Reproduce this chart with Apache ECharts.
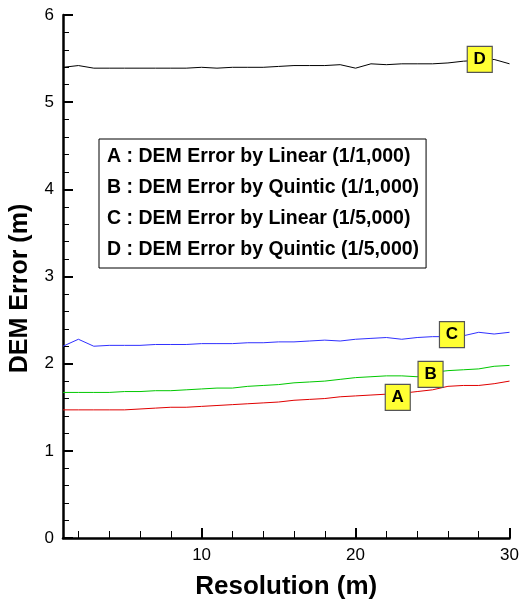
<!DOCTYPE html>
<html>
<head>
<meta charset="utf-8">
<script src="https://cdn.jsdelivr.net/npm/echarts@6/dist/echarts.min.js"></script>
<style>
  html, body { margin: 0; padding: 0; background: #fff; }
  #chart { width: 522px; height: 605px; }
</style>
</head>
<body>
<div id="chart"></div>
<script>
// resolution (m)
const resolution = [1, 2, 3, 4, 5, 6, 7, 8, 9, 10, 11, 12, 13, 14, 15,
  16, 17, 18, 19, 20, 21, 22, 23, 24, 25, 26, 27, 28, 29, 30]

// DEM error (m)
const linear1000 = [1.47, 1.47, 1.47, 1.47, 1.47, 1.48, 1.49, 1.50, 1.50, 1.51,
  1.52, 1.53, 1.54, 1.55, 1.56, 1.58, 1.59, 1.60, 1.62, 1.63,
  1.64, 1.65, 1.66, 1.68, 1.70, 1.74, 1.75, 1.75, 1.77, 1.80]
const quintic1000 = [1.67, 1.67, 1.67, 1.67, 1.68, 1.68, 1.69, 1.69, 1.70, 1.71,
  1.72, 1.72, 1.74, 1.75, 1.76, 1.78, 1.79, 1.80, 1.82, 1.84,
  1.85, 1.86, 1.86, 1.85, 1.90, 1.92, 1.93, 1.94, 1.97, 1.98]
const linear5000 = [2.20, 2.28, 2.20, 2.21, 2.21, 2.21, 2.22, 2.22, 2.22, 2.23,
  2.23, 2.23, 2.24, 2.24, 2.25, 2.25, 2.26, 2.27, 2.26, 2.28,
  2.29, 2.30, 2.28, 2.30, 2.31, 2.31, 2.32, 2.36, 2.34, 2.36]
const quintic5000 = [5.40, 5.42, 5.39, 5.39, 5.39, 5.39, 5.39, 5.39, 5.39, 5.40,
  5.39, 5.40, 5.40, 5.40, 5.41, 5.42, 5.42, 5.42, 5.43, 5.39,
  5.44, 5.43, 5.44, 5.44, 5.44, 5.45, 5.47, 5.48, 5.49, 5.44]

const seriesNames = [
  'A : DEM Error by Linear (1/1,000)',
  'B : DEM Error by Quintic (1/1,000)',
  'C : DEM Error by Linear (1/5,000)',
  'D : DEM Error by Quintic (1/5,000)'
]
const letters = ['A', 'B', 'C', 'D']
const seriesData = [linear1000, quintic1000, linear5000, quintic5000]
const colors = ['#e00000', '#00c800', '#3030ff', '#000000']
// index of the point where each letter box sits, and a small pixel nudge
const boxIndex = [22, 24, 25, 27]
const boxNudge = [[-4, 4], [-2, 2], [4, -2], [1, -1]]

const xMajor = [10, 20, 30]
const xMinor = [2, 4, 6, 8, 12, 14, 16, 18, 22, 24, 26, 28]

const font = 'Liberation Sans, Arial, sans-serif'

const chart = echarts.init(document.getElementById('chart'))

const series = seriesData.map((vals, i) => ({
  name: seriesNames[i],
  type: 'line',
  xAxisIndex: 0,
  data: vals.map((v, j) => [resolution[j], v]),
  showSymbol: false,
  symbol: 'none',
  lineStyle: { color: colors[i], width: 1 },
  itemStyle: { color: colors[i] },
  z: 2,
  markPoint: {
    symbol: 'rect',
    symbolSize: [25, 26],
    symbolOffset: boxNudge[i],
    itemStyle: { color: '#ffff33', borderColor: '#555', borderWidth: 1.2 },
    label: {
      show: true,
      formatter: letters[i],
      color: '#000',
      fontFamily: font,
      fontWeight: 'bold',
      fontSize: 17
    },
    data: [{ coord: [resolution[boxIndex[i]], vals[boxIndex[i]]] }],
    z: 5
  }
}))

const option = {
  animation: false,
  backgroundColor: '#fff',
  grid: { left: 61, right: 9, top: 15, bottom: 62, containLabel: false },
  legend: {
    data: seriesNames,
    orient: 'vertical',
    left: 99,
    top: 139,
    icon: 'rect',
    itemWidth: 0,
    itemHeight: 0,
    itemGap: 11,
    padding: [8, 7, 8, 3],
    borderColor: '#000',
    borderWidth: 1,
    backgroundColor: '#fff',
    selectedMode: false,
    textStyle: { color: '#000', fontFamily: font, fontWeight: 'bold', fontSize: 19.5 }
  },
  xAxis: [
    {
      type: 'value',
      min: 1,
      max: 30,
      name: 'Resolution (m)',
      nameLocation: 'middle',
      nameGap: 36,
      nameTextStyle: { color: '#000', fontFamily: font, fontWeight: 'bold', fontSize: 26 },
      axisLine: { show: true, onZero: false, lineStyle: { color: '#000', width: 2.5 } },
      axisTick: { show: true, inside: true, length: 10, customValues: xMajor, lineStyle: { color: '#000', width: 2 } },
      axisLabel: { show: true, customValues: xMajor, margin: 9, color: '#000', fontFamily: font, fontSize: 17 },
      splitLine: { show: false }
    },
    {
      type: 'value',
      min: 1,
      max: 30,
      position: 'bottom',
      axisLine: { show: false },
      axisTick: { show: true, inside: true, length: 7, customValues: xMinor, lineStyle: { color: '#000', width: 1 } },
      axisLabel: { show: false },
      splitLine: { show: false }
    }
  ],
  yAxis: {
    type: 'value',
    min: 0,
    max: 6,
    interval: 1,
    name: 'DEM Error (m)',
    nameLocation: 'middle',
    nameGap: 30,
    nameRotate: 90,
    nameTextStyle: { color: '#000', fontFamily: font, fontWeight: 'bold', fontSize: 25, padding: [0, 24, 0, 0] },
    axisLine: { show: true, onZero: false, lineStyle: { color: '#000', width: 2.5 } },
    axisTick: { show: true, inside: true, length: 10, lineStyle: { color: '#000', width: 2 } },
    minorTick: { show: true, splitNumber: 5, length: 6, lineStyle: { color: '#000', width: 1 } },
    axisLabel: { margin: 9, color: '#000', fontFamily: font, fontSize: 17 },
    splitLine: { show: false },
    minorSplitLine: { show: false }
  },
  series: series
}

chart.setOption(option)
</script>
</body>
</html>
